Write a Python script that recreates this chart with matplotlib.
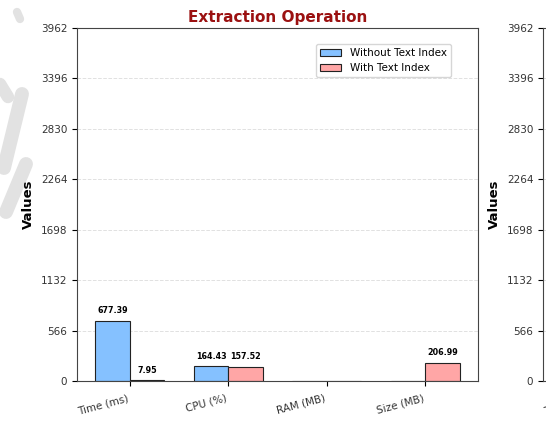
import numpy as np
import matplotlib
matplotlib.use("Agg")
import matplotlib.pyplot as plt
from matplotlib.lines import Line2D

# Data
metrics = ["Time (ms)", "CPU (%)", "RAM (MB)", "Size (MB)"]
without_index = [677.39, 164.43, 0.0, 0.0]
with_index = [7.95, 157.52, 0.0, 206.99]
y_max = 3962

fig = plt.figure(figsize=(5.46, 4.21), dpi=100)

# faint grey watermark strokes on the left edge (pixel coords, y down)
W, H = 546, 421
strokes = [((17, 12), (20, 19), 6), ((0, 84), (8, 97), 9),
           ((4, 168), (22, 94), 10), ((6, 212), (26, 164), 10)]
for (x0, y0), (x1, y1), lw in strokes:
    fig.add_artist(Line2D([x0 / W, x1 / W], [1 - y0 / H, 1 - y1 / H],
                          transform=fig.transFigure, color="#e2e2e2",
                          lw=lw, solid_capstyle="round", zorder=0))

ax = fig.add_axes([77 / W, 1 - 381 / H, (478 - 77) / W, (381 - 28) / H])
ax2 = fig.add_axes([543 / W, 1 - 381 / H, (478 - 77) / W, (381 - 28) / H])

x = np.arange(len(metrics))
width = 0.35

b1 = ax.bar(x - width / 2, without_index, width, label="Without Text Index",
            color="#85c1ff", edgecolor="#222222", linewidth=0.8)
b2 = ax.bar(x + width / 2, with_index, width, label="With Text Index",
            color="#ffa6a6", edgecolor="#222222", linewidth=0.8)

for bars in (b1, b2):
    for bar in bars:
        h = bar.get_height()
        if h > 0:
            ax.annotate(f"{h:.2f}", (bar.get_x() + bar.get_width() / 2, h),
                        xytext=(0, 4), textcoords="offset points",
                        ha="center", va="bottom", fontsize=5.8, fontweight="bold")

yticks = np.linspace(0, y_max, 8)
for a in (ax, ax2):
    a.set_ylim(0, y_max)
    a.set_yticks(yticks)
    a.set_yticklabels([f"{v:.0f}" for v in yticks], fontsize=7.5, color="#333333")
    a.set_ylabel("Values", fontsize=9.5, fontweight="bold")
    a.set_xticks(x)
    a.set_xticklabels(metrics, rotation=15, ha="right", fontsize=7.5, color="#333333")
    a.tick_params(axis="x", pad=5)
    a.grid(axis="y", linestyle="--", color="#cccccc", alpha=0.6, linewidth=0.7)
    a.set_axisbelow(True)
    for s in a.spines.values():
        s.set_color("#444444")

ax2.set_xlim(ax.get_xlim())

ax.set_title("Extraction Operation", fontsize=11, fontweight="bold", color="#9b1111", pad=4)
ax.legend(loc="upper right", bbox_to_anchor=(0.945, 0.97), fontsize=7.5)

fig.savefig("out.png", dpi=100)
